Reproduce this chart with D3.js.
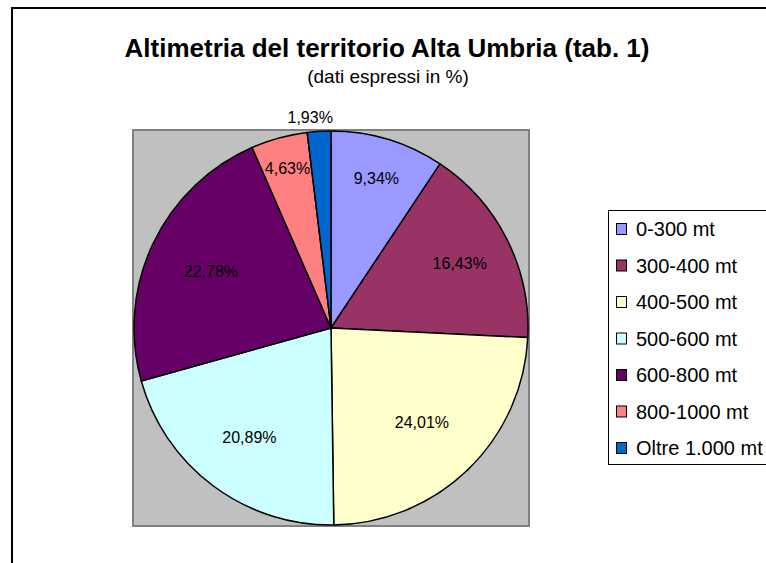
<!DOCTYPE html>
<html>
<head>
<meta charset="utf-8">
<script src="https://cdn.jsdelivr.net/npm/d3@7"></script>
<style>
  html, body { margin: 0; padding: 0; background: #fff; overflow: hidden; }
  svg { display: block; font-family: "Liberation Sans", Arial, sans-serif; }
</style>
</head>
<body>
<script>
// data
const categories = ['0-300 mt', '300-400 mt', '400-500 mt', '500-600 mt', '600-800 mt', '800-1000 mt', 'Oltre 1.000 mt'];
const values = [9.34, 16.43, 24.01, 20.89, 22.78, 4.63, 1.93];
const labels = ['9,34%', '16,43%', '24,01%', '20,89%', '22,78%', '4,63%', '1,93%'];
const colors = ['#9999ff', '#993366', '#ffffcc', '#ccffff', '#660066', '#ff8080', '#0066cc'];

const width = 766;
const height = 563;

const svg = d3.select('body')
    .append('svg')
    .attr('width', width)
    .attr('height', height);

// chart area frame (runs off the page right and bottom)
svg.append('rect')
    .attr('x', 12).attr('y', 8)
    .attr('width', 900).attr('height', 700)
    .attr('fill', '#fff')
    .attr('stroke', '#000')
    .attr('stroke-width', 2);

svg.append('text')
    .attr('x', 387).attr('y', 57)
    .attr('text-anchor', 'middle')
    .attr('font-size', 26)
    .attr('font-weight', 'bold')
    .text('Altimetria del territorio Alta Umbria (tab. 1)');

svg.append('text')
    .attr('x', 388).attr('y', 83)
    .attr('text-anchor', 'middle')
    .attr('font-size', 19)
    .text('(dati espressi in %)');

// plot area
const plot = {x: 133, y: 130, w: 396, h: 396};
svg.append('rect')
    .attr('x', plot.x).attr('y', plot.y)
    .attr('width', plot.w).attr('height', plot.h)
    .attr('fill', '#c0c0c0')
    .attr('stroke', '#808080')
    .attr('stroke-width', 2);

const r = 197;
const cx = 331, cy = 328;

const pie = d3.pie().sort(null).value(d => d.value);
const arcs = pie(values.map((v, i) => ({value: v, i: i})));
const total = d3.sum(values);

const arc = d3.arc().innerRadius(0).outerRadius(r);

const g = svg.append('g')
    .attr('transform', `translate(${cx}, ${cy})`);

g.selectAll('path.slice')
    .data(arcs)
    .enter()
    .append('path')
    .attr('class', 'slice')
    .attr('d', arc)
    .attr('fill', d => colors[d.data.i])
    .attr('stroke', '#000')
    .attr('stroke-width', 1.5)
    .attr('stroke-linejoin', 'round');

// labels: inside for normal slices (narrow slices pushed outward), outside for tiny ones
g.selectAll('text.lbl')
    .data(arcs)
    .enter()
    .append('text')
    .attr('class', 'lbl')
    .attr('transform', d => {
        const frac = d.data.value / total;
        const lr = frac < 0.03 ? r + 14 : r * (0.88 - 0.9 * frac);
        const c = d3.arc().innerRadius(lr).outerRadius(lr).centroid(d);
        if (frac < 0.03) c[0] -= 8;
        return `translate(${c[0]}, ${c[1]})`;
    })
    .attr('text-anchor', 'middle')
    .attr('dy', '0.35em')
    .attr('font-size', 16)
    .text(d => labels[d.data.i]);

// legend
const legend = svg.append('g');
legend.append('rect')
    .attr('x', 608.5).attr('y', 210.5)
    .attr('width', 300).attr('height', 254)
    .attr('fill', '#fff')
    .attr('stroke', '#000')
    .attr('stroke-width', 1);

const ly = d3.scalePoint()
    .domain(categories)
    .range([229, 448]);

const items = legend.selectAll('g.item')
    .data(categories)
    .enter()
    .append('g')
    .attr('class', 'item')
    .attr('transform', d => `translate(0, ${ly(d)})`);

items.append('rect')
    .attr('x', 616.5).attr('y', -5.5)
    .attr('width', 10).attr('height', 11)
    .attr('fill', (d, i) => colors[i])
    .attr('stroke', '#000')
    .attr('stroke-width', 1);

items.append('text')
    .attr('x', 636)
    .attr('dy', '0.36em')
    .attr('font-size', 20)
    .text(d => d);
</script>
</body>
</html>
